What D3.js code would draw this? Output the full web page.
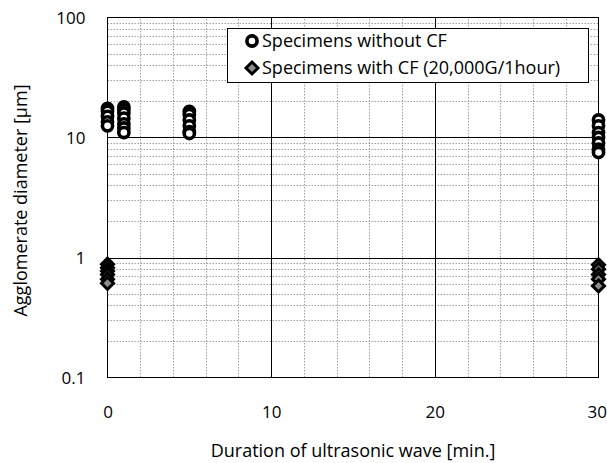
<!DOCTYPE html>
<html>
<head>
<meta charset="utf-8">
<script src="https://cdn.jsdelivr.net/npm/d3@7"></script>
<style>
  html, body { margin: 0; padding: 0; background: #fff; }
  svg { display: block; font-family: "Open Sans", Lato, sans-serif; }
</style>
</head>
<body>
<svg id="chart" width="607" height="463"></svg>
<script>
// Agglomerate diameter measured after ultrasonic treatment
const withoutCF_x = [0, 0, 0, 0, 0,
                     1, 1, 1, 1, 1, 1, 1,
                     5, 5, 5, 5, 5, 5,
                     30, 30, 30, 30, 30, 30, 30];
const withoutCF_y = [17.5, 16.5, 15, 13.5, 12.5,
                     18, 17, 16, 14.5, 13, 12, 11,
                     16.5, 15.5, 14, 12.5, 11.2, 10.8,
                     14, 12.5, 11, 10, 9, 8, 7.5];
const withCF_x = [0, 0, 0, 0, 0, 0,
                  30, 30, 30, 30, 30];
const withCF_y = [0.88, 0.82, 0.77, 0.72, 0.66, 0.61,
                  0.87, 0.8, 0.72, 0.66, 0.58];

const xTicks = [0, 10, 20, 30];
const yTicks = [0.1, 1, 10, 100];
const seriesNames = ["Specimens without CF", "Specimens with CF (20,000G/1hour)"];

const FONT = 18;
const TICK_FONT = 17;
const svg = d3.select("#chart");
const margin = { left: 107.5, right: 8.5, top: 17.5, bottom: 85.5 };
const W = 607, H = 463;

const x = d3.scaleLinear().domain([0, 30]).range([margin.left, W - margin.right]);
const y = d3.scaleLog().domain([0.1, 100]).range([H - margin.bottom, margin.top]);

const x0 = x.range()[0], x1 = x.range()[1];
const y0 = y.range()[0], y1 = y.range()[1];

// minor grid (dotted)
const minorY = [];
[0.1, 1, 10].forEach(d => { for (let k = 2; k <= 9; k++) minorY.push(d * k); });
const minorX = d3.range(2, 30, 2).filter(v => v % 10 !== 0);

const grid = svg.append("g");
grid.selectAll(".my").data(minorY).join("line")
  .attr("x1", x0).attr("x2", x1)
  .attr("y1", d => Math.round(y(d)) + 0.5).attr("y2", d => Math.round(y(d)) + 0.5)
  .attr("stroke", "#a0a0a0").attr("stroke-width", 1).attr("stroke-dasharray", "1.5,1.5");
grid.selectAll(".mx").data(minorX).join("line")
  .attr("y1", y0).attr("y2", y1)
  .attr("x1", d => Math.round(x(d)) + 0.5).attr("x2", d => Math.round(x(d)) + 0.5)
  .attr("stroke", "#a0a0a0").attr("stroke-width", 1).attr("stroke-dasharray", "1.5,1.5");

// major grid (solid)
grid.selectAll(".My").data([1, 10]).join("line")
  .attr("x1", x0).attr("x2", x1)
  .attr("y1", d => Math.round(y(d)) + 0.5).attr("y2", d => Math.round(y(d)) + 0.5)
  .attr("stroke", "#000").attr("stroke-width", 1);
grid.selectAll(".Mx").data([10, 20]).join("line")
  .attr("y1", y0).attr("y2", y1)
  .attr("x1", d => Math.round(x(d)) + 0.5).attr("x2", d => Math.round(x(d)) + 0.5)
  .attr("stroke", "#000").attr("stroke-width", 1);

// plot frame
svg.append("rect")
  .attr("x", x0).attr("y", y1).attr("width", x1 - x0).attr("height", y0 - y1)
  .attr("fill", "none").attr("stroke", "#000").attr("stroke-width", 1);

// axes (labels only, ticks hidden)
const xAxis = svg.append("g").attr("transform", `translate(0,${y0 + 37})`)
  .call(d3.axisBottom(x).tickValues(xTicks).tickSize(0).tickFormat(d3.format("d")));
xAxis.select(".domain").remove();
xAxis.selectAll("text").attr("font-size", TICK_FONT).attr("fill", "#000")
  .attr("font-family", "'Open Sans', Lato, sans-serif").attr("dy", "0");
// keep the last label inside the canvas
xAxis.selectAll(".tick").filter(d => d === 30).select("text")
  .attr("text-anchor", "end").attr("x", 8);

const yAxis = svg.append("g").attr("transform", `translate(${x0 - 19},0)`)
  .call(d3.axisLeft(y).tickValues(yTicks).tickSize(0).tickFormat(d => d < 1 ? "0.1" : String(d)));
yAxis.select(".domain").remove();
yAxis.selectAll("text").attr("font-size", TICK_FONT).attr("fill", "#000")
  .attr("font-family", "'Open Sans', Lato, sans-serif").attr("dy", "0.35em");

// axis titles
svg.append("text")
  .attr("x", (x0 + x1) / 2).attr("y", 457)
  .attr("text-anchor", "middle").attr("font-size", FONT).attr("fill", "#000")
  .text("Duration of ultrasonic wave [min.]");
svg.append("text")
  .attr("transform", `translate(27,${(y0 + y1) / 2 + 3}) rotate(-90)`)
  .attr("text-anchor", "middle").attr("font-size", FONT).attr("fill", "#000")
  .text("Agglomerate diameter [μm]");

// markers: larger values first so lower markers sit on top
const circ = withoutCF_x.map((v, i) => ({ x: v, y: withoutCF_y[i] }))
  .sort((a, b) => a.x - b.x || b.y - a.y);
const diam = withCF_x.map((v, i) => ({ x: v, y: withCF_y[i] }))
  .sort((a, b) => a.x - b.x || b.y - a.y);

const diamondPath = s => `M0,${-s}L${s},0L0,${s}L${-s},0Z`;

svg.append("g").selectAll("path").data(diam).join("path")
  .attr("d", diamondPath(6))
  .attr("transform", d => `translate(${x(d.x)},${y(d.y)})`)
  .attr("fill", "#8c8c8c").attr("stroke", "#000").attr("stroke-width", 3)
  .attr("stroke-linejoin", "miter");

svg.append("g").selectAll("circle").data(circ).join("circle")
  .attr("cx", d => x(d.x)).attr("cy", d => y(d.y)).attr("r", 5.1)
  .attr("fill", "#fff").attr("stroke", "#000").attr("stroke-width", 3.6);

// legend
const lg = svg.append("g");
lg.append("rect").attr("x", 227.5).attr("y", 28.5).attr("width", 361).attr("height", 54)
  .attr("fill", "#fff").attr("stroke", "#000").attr("stroke-width", 1);
lg.append("circle").attr("cx", 252).attr("cy", 41).attr("r", 5.1)
  .attr("fill", "#fff").attr("stroke", "#000").attr("stroke-width", 3.6);
lg.append("path").attr("d", diamondPath(6)).attr("transform", "translate(252,68)")
  .attr("fill", "#8c8c8c").attr("stroke", "#000").attr("stroke-width", 3);
lg.selectAll("text").data(seriesNames).join("text")
  .attr("x", 262).attr("y", (d, i) => 41 + i * 27).attr("dy", "0.35em")
  .attr("font-size", FONT).attr("fill", "#000").text(d => d);
</script>
</body>
</html>
